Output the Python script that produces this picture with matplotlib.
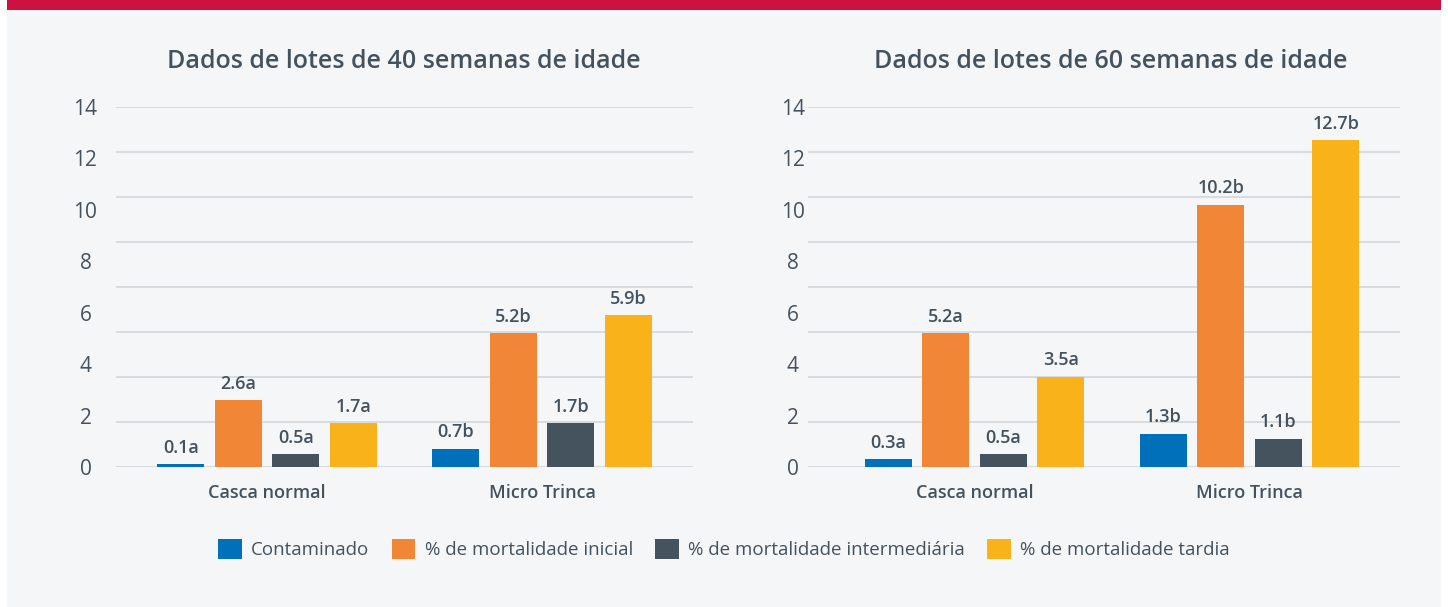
import numpy as np
import matplotlib.pyplot as plt
from matplotlib.patches import Rectangle

plt.rcParams['font.family'] = ['Open Sans', 'DejaVu Sans']

categories = ['Casca normal', 'Micro Trinca']
series = ['Contaminado', '% de mortalidade inicial',
          '% de mortalidade intermediária', '% de mortalidade tardia']
colors = ['#0070BA', '#F28637', '#45535F', '#F9B219']

titles = ['Dados de lotes de 40 semanas de idade', 'Dados de lotes de 60 semanas de idade']

# values per series: [Casca normal, Micro Trinca]
w40_values = [[0.1, 0.7], [2.6, 5.2], [0.5, 1.7], [1.7, 5.9]]
w40_letters = [['a', 'b'], ['a', 'b'], ['a', 'b'], ['a', 'b']]
w60_values = [[0.3, 1.3], [5.2, 10.2], [0.5, 1.1], [3.5, 12.7]]
w60_letters = [['a', 'b'], ['a', 'b'], ['a', 'b'], ['a', 'b']]

yticks = [0, 2, 4, 6, 8, 10, 12, 14]

txt = '#44525E'
bg = '#F5F6F8'

fig = plt.figure(figsize=(14.48, 6.07), dpi=100)
fig.patch.set_facecolor('white')
fig.patches.append(Rectangle((7 / 1448, 0), 1434 / 1448, 1, transform=fig.transFigure,
                             facecolor=bg, edgecolor='none', zorder=-10))
fig.patches.append(Rectangle((7 / 1448, 1 - 10 / 607), 1434 / 1448, 10 / 607, transform=fig.transFigure,
                             facecolor='#CE1141', edgecolor='none', zorder=-9))

axes_pos = [[116 / 1448, 140 / 607, 577 / 1448, 360 / 607],
            [808 / 1448, 140 / 607, 592 / 1448, 360 / 607]]
xlims = [(-0.549, 1.549), (-0.605, 1.547)]
pads = [22, 11]
title_x = [404 / 1448, 1111 / 1448]

bw = 0.171
step = 0.209
x = np.arange(len(categories))

for k, (vals, lets) in enumerate([(w40_values, w40_letters), (w60_values, w60_letters)]):
    ax = fig.add_axes(axes_pos[k])
    ax.set_facecolor('none')
    for i in range(len(series)):
        xs = x + (i - 1.5) * step
        bars = ax.bar(xs, vals[i], width=bw, color=colors[i], label=series[i], zorder=3)
        for b, v, l in zip(bars, vals[i], lets[i]):
            ax.annotate(f'{v}{l}', (b.get_x() + b.get_width() / 2, v), xytext=(0, 5.5),
                        textcoords='offset points', ha='center', va='bottom',
                        fontsize=13, fontweight='semibold', color=txt)
    ax.set_ylim(0, 14)
    ax.set_xlim(*xlims[k])
    for g in np.linspace(0, 14, 9):
        ax.axhline(g, color='#D3D7DB', lw=1.2, zorder=1)
    ax.set_yticks(yticks)
    ax.set_yticklabels([str(t) for t in yticks], ha='center')
    ax.tick_params(axis='y', length=0, pad=pads[k], labelsize=15, labelcolor=txt)
    ax.set_xticks(x)
    ax.set_xticklabels(categories, fontsize=13, fontweight='semibold', color=txt)
    ax.tick_params(axis='x', length=0, pad=12)
    for s in ax.spines.values():
        s.set_visible(False)
    fig.text(title_x[k], 1 - 62 / 607, titles[k], ha='center', va='center',
             fontsize=18, fontweight='semibold', color=txt)

handles, labels = ax.get_legend_handles_labels()
leg = fig.legend(handles, labels, loc='center', bbox_to_anchor=(0.5, 1 - 549 / 607), ncol=4,
                 frameon=False, fontsize=13.5, handlelength=1.25, handleheight=1.25,
                 handletextpad=0.5, columnspacing=1.2)
for t in leg.get_texts():
    t.set_color(txt)

fig.savefig('out.png', dpi=100, facecolor=fig.get_facecolor())
